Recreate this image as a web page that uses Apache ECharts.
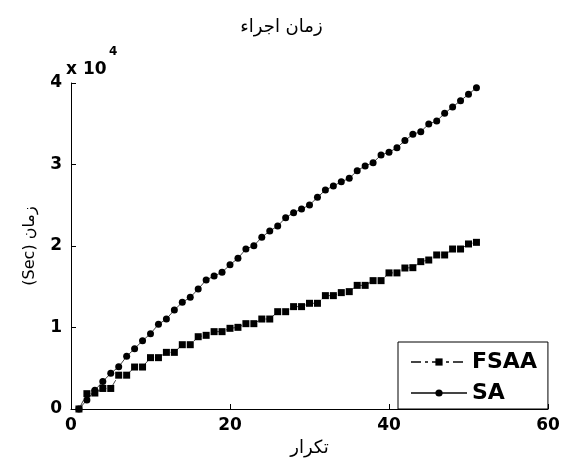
<!DOCTYPE html>
<html>
<head>
<meta charset="utf-8">
<script src="https://cdn.jsdelivr.net/npm/echarts@6/dist/echarts.min.js"></script>
<style>html,body{margin:0;padding:0;background:#fff;}#c{width:563px;height:465px;}</style>
</head>
<body>
<div id="c"></div>
<script>
const iterations = [1,2,3,4,5,6,7,8,9,10,11,12,13,14,15,16,17,18,19,20,21,22,23,24,25,26,27,28,29,30,31,32,33,34,35,36,37,38,39,40,41,42,43,44,45,46,47,48,49,50,51];
const saValues = [0,1100,2300,3370,4380,5170,6460,7400,8380,9240,10390,11040,12150,13090,13700,14720,15830,16320,16770,17700,18490,19630,20040,21070,21840,22450,23480,24090,24540,25030,25970,26870,27360,27890,28300,29240,29830,30230,31170,31490,32070,32930,33700,34030,34970,35340,36280,37060,37830,38610,39430];
const fsaaValues = [0,1880,1960,2520,2520,4150,4150,5150,5150,6300,6300,6950,6950,7890,7890,8870,9040,9490,9490,9900,10020,10470,10470,11040,11040,11940,11940,12560,12560,12970,12970,13910,13910,14280,14400,15170,15170,15750,15750,16700,16700,17300,17340,18080,18280,18900,18900,19630,19630,20250,20450];
const seriesNames = ['FSAA','SA'];
const titleText = 'زمان اجراء';
const xName = 'تکرار';
const yName = '(Sec) زمان';
const scaleText = 'x 10';
const scaleExp = '4';

const font = 'DejaVu Sans';
const chart = echarts.init(document.getElementById('c'), null, {renderer:'canvas'});
const pairs = vals => iterations.map((x,i)=>[x, vals[i]]);
chart.setOption({
  animation:false,
  backgroundColor:'#fff',
  title:{text:titleText,left:'center',top:13,textStyle:{fontFamily:font,fontSize:18,fontWeight:'normal',color:'#000'}},
  grid:{left:71,right:15,top:83,bottom:56,containLabel:false},
  legend:{
    orient:'vertical',left:398,top:342,
    data:seriesNames,
    backgroundColor:'#fff',borderColor:'#000',borderWidth:1,
    padding:[9,11,5,12],itemGap:9,itemWidth:56,itemHeight:9,
    textStyle:{fontFamily:font,fontSize:22,fontWeight:'bold',color:'#000',lineHeight:22}
  },
  xAxis:{
    type:'value',min:0,max:60,interval:20,
    name:xName,nameLocation:'middle',nameGap:30,
    nameTextStyle:{fontFamily:font,fontSize:18,color:'#000'},
    axisLine:{show:true,lineStyle:{color:'#000',width:1}},
    axisTick:{show:true,inside:true,length:5,lineStyle:{color:'#000'}},
    axisLabel:{fontFamily:font,fontSize:17,fontWeight:'bold',color:'#000',margin:8},
    splitLine:{show:false}
  },
  yAxis:{
    type:'value',min:0,max:40000,interval:10000,
    name:yName,nameLocation:'middle',nameRotate:90,nameGap:33,
    nameTextStyle:{fontFamily:font,fontSize:16,color:'#000'},
    axisLine:{show:true,lineStyle:{color:'#000',width:1}},
    axisTick:{show:true,inside:true,length:5,lineStyle:{color:'#000'}},
    axisLabel:{fontFamily:font,fontSize:17,fontWeight:'bold',color:'#000',margin:9,formatter:v=>String(v/10000)},
    splitLine:{show:false}
  },
  graphic:[
    {type:'text',left:66,top:61,style:{text:scaleText,font:'bold 17px "DejaVu Sans"',fill:'#000'}},
    {type:'text',left:109,top:46,style:{text:scaleExp,font:'bold 12px "DejaVu Sans"',fill:'#000'}}
  ],
  series:[
    {name:seriesNames[0],type:'line',data:pairs(fsaaValues),symbol:'rect',symbolSize:7,showSymbol:true,
     itemStyle:{color:'#000'},lineStyle:{color:'#444',width:1,type:[10,4,3,4]}},
    {name:seriesNames[1],type:'line',data:pairs(saValues),symbol:'circle',symbolSize:7,showSymbol:true,
     itemStyle:{color:'#000'},lineStyle:{color:'#444',width:1,type:'solid'}}
  ]
});
</script>
</body>
</html>
